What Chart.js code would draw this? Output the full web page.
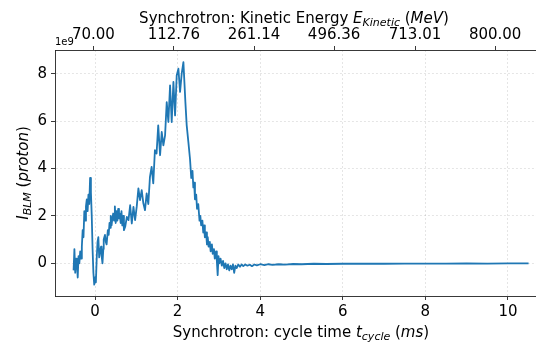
<!DOCTYPE html>
<html>
<head>
<meta charset="utf-8">
<script src="https://cdn.jsdelivr.net/npm/chart.js@4.4.0/dist/chart.umd.min.js"></script>
<style>
html,body{margin:0;padding:0;background:#fff;}
canvas{display:block;}
</style>
</head>
<body>
<canvas id="c" width="536" height="343"></canvas>
<script>
// cycle time (ms)
const times = [
-0.52,-0.50,-0.48,-0.46,-0.44,-0.42,-0.40,-0.38,-0.36,-0.34,-0.32,-0.30,-0.28,-0.26,-0.24,-0.22,-0.20,-0.18,-0.16,-0.14,-0.12,-0.10,-0.08,-0.06,-0.04,-0.02,0.00,0.02,
0.04,0.06,0.08,0.10,0.12,0.145,0.16,0.18,0.20,0.21,0.24,0.26,0.28,0.31,0.33,0.35,0.37,0.38,0.40,0.42,0.44,0.46,0.48,0.50,0.52,0.54,0.56,0.58,0.60,0.62,0.64,0.66,0.68,0.70,
0.73,0.77,0.81,0.85,0.89,0.93,0.97,1.01,1.05,1.09,1.13,1.17,1.21,1.25,1.29,1.33,1.37,1.41,1.45,1.49,1.53,1.575,1.615,1.655,1.696,1.736,1.776,1.817,1.857,1.898,1.938,1.978,2.019,2.059,2.099,2.14,2.164,2.188,2.22,2.26,
2.30,2.33,2.36,2.38,2.40,2.42,2.45,2.47,2.50,2.53,2.55,2.57,2.60,2.62,2.64,2.66,2.69,2.71,2.73,2.75,2.78,2.80,2.83,2.85,2.88,2.90,2.93,2.95,2.97,2.99,3.01,3.04,3.07,3.10,3.13,3.16,3.19,3.22,3.25,3.28,3.31,3.34,3.37,3.40,3.43,3.47,3.51,3.55,3.59,3.64,3.69,3.75,3.80,3.86,3.92,
4.0,4.1,4.2,4.3,4.45,4.6,4.8,5.0,5.3,5.6,6.0,6.5,7.0,7.5,8.0,8.5,9.0,9.5,10.0,10.5
];
// BLM signal, in units of 1e9 protons
const blmE9 = [
-0.3,0.6,-0.4,0.2,0.0,-0.6,0.3,0.0,0.5,0.2,0.7,1.4,1.1,2.2,1.8,2.4,2.7,2.2,2.9,2.5,3.6,3.0,2.0,0.6,-0.4,-0.9,-0.6,-0.8,
0.2,0.9,1.1,0.25,0.5,0.7,0.3,0.0,0.6,1.0,1.2,0.9,0.8,1.4,1.2,1.7,1.5,2.0,1.6,1.9,2.1,1.8,2.4,1.7,2.2,1.8,2.3,1.9,2.1,1.7,2.2,1.6,2.0,1.4,
1.54,1.96,1.82,2.45,1.68,2.38,1.82,2.4,3.16,2.67,3.09,2.53,2.24,2.95,2.5,3.65,4.07,3.37,4.77,4.63,5.82,4.56,5.54,4.98,5.40,6.80,5.96,7.51,5.96,7.65,6.24,7.93,8.21,7.23,8.0,8.49,7.65,6.80,5.82,5.12,
4.4,3.6,3.9,3.2,3.4,2.7,2.9,2.3,2.5,1.8,2.0,1.6,1.8,1.3,1.6,1.1,1.3,0.8,1.1,0.7,0.9,0.5,0.8,0.4,0.6,0.2,0.5,0.1,-0.5,0.3,0.0,0.2,-0.1,0.1,-0.2,0.0,-0.25,-0.05,-0.3,-0.1,-0.25,-0.05,-0.4,-0.1,-0.2,-0.05,-0.15,-0.05,-0.12,-0.05,-0.1,-0.06,-0.12,-0.05,-0.09,
-0.04,-0.08,-0.04,-0.07,-0.04,-0.06,-0.03,-0.04,-0.02,-0.03,-0.02,-0.01,-0.02,-0.01,-0.01,-0.01,0.0,-0.01,0.0,0.0
];
const xTicks = [0, 2, 4, 6, 8, 10];
const yTicks = [0, 2, 4, 6, 8];
const energyTickPos = [-0.04, 1.91, 3.85, 5.79, 7.75, 9.69];
const energyLabels = ['70.00', '112.76', '261.14', '496.36', '713.01', '800.00'];

const FONT = "'DejaVu Sans', sans-serif";
const tickFont = {family: FONT, size: 15};
const gridCommon = {color: 'rgba(0,0,0,0.13)', lineWidth: 0.8, tickLength: 4, tickColor: '#222', tickWidth: 0.9};

function drawRich(ctx, parts, x, y, align, size) {
  const subSize = Math.round(size * 0.7);
  let w = 0;
  parts.forEach(p => {
    ctx.font = (p.it ? 'italic ' : '') + (p.sub ? subSize : size) + 'px ' + FONT;
    p.w = ctx.measureText(p.t).width;
    w += p.w;
  });
  let cx = align === 'center' ? x - w / 2 : x;
  ctx.textBaseline = 'alphabetic';
  ctx.textAlign = 'left';
  parts.forEach(p => {
    ctx.font = (p.it ? 'italic ' : '') + (p.sub ? subSize : size) + 'px ' + FONT;
    ctx.fillText(p.t, cx, y + (p.sub ? size * 0.22 : 0));
    cx += p.w;
  });
}

const labelsPlugin = {
  id: 'labels',
  afterDraw(chart) {
    const ctx = chart.ctx;
    ctx.save();
    ctx.fillStyle = '#000';
    drawRich(ctx, [
      {t: 'Synchrotron: Kinetic Energy '}, {t: 'E', it: true}, {t: 'Kinetic', it: true, sub: true},
      {t: ' ('}, {t: 'MeV', it: true}, {t: ')'}
    ], 294, 22.5, 'center', 15);
    drawRich(ctx, [
      {t: 'Synchrotron: cycle time '}, {t: 't', it: true}, {t: 'cycle', it: true, sub: true},
      {t: ' ('}, {t: 'ms', it: true}, {t: ')'}
    ], 301, 336.5, 'center', 15);
    ctx.save();
    ctx.translate(28, 173);
    ctx.rotate(-Math.PI / 2);
    drawRich(ctx, [
      {t: 'I', it: true}, {t: 'BLM', it: true, sub: true}, {t: ' ('}, {t: 'proton', it: true}, {t: ')'}
    ], 0, 0, 'center', 15);
    ctx.restore();
    ctx.font = '10px ' + FONT;
    ctx.textAlign = 'left';
    ctx.textBaseline = 'alphabetic';
    ctx.fillText('1e9', 55, 45);
    ctx.restore();
  }
};

new Chart(document.getElementById('c'), {
  type: 'line',
  data: {
    datasets: [{
      data: times.map((t, i) => ({x: t, y: blmE9[i]})),
      borderColor: '#1f77b4',
      borderWidth: 1.8,
      pointRadius: 0,
      tension: 0,
      fill: false,
      borderJoinStyle: 'round',
      xAxisID: 'x',
      yAxisID: 'y'
    }]
  },
  options: {
    responsive: false,
    animation: false,
    devicePixelRatio: 1,
    layout: {padding: 0},
    plugins: {legend: {display: false}, tooltip: {enabled: false}},
    scales: {
      x: {
        type: 'linear', position: 'bottom', min: -0.97, max: 10.68,
        afterBuildTicks: s => { s.ticks = xTicks.map(v => ({value: v})); },
        afterFit: s => { s.height = 47; },
        ticks: {font: tickFont, color: '#000', padding: 3, maxRotation: 0, autoSkip: false, callback: v => String(v)},
        grid: gridCommon,
        border: {color: '#222', width: 0.9, dash: [2, 2]}
      },
      x2: {
        type: 'linear', position: 'top', min: -0.97, max: 10.68,
        afterBuildTicks: s => { s.ticks = energyTickPos.map(v => ({value: v})); },
        afterFit: s => { s.height = 50; },
        ticks: {font: tickFont, color: '#000', padding: 2, maxRotation: 0, autoSkip: false, callback: (v, i) => energyLabels[i]},
        grid: Object.assign({}, gridCommon, {drawOnChartArea: false}),
        border: {color: '#222', width: 0.9}
      },
      y: {
        type: 'linear', position: 'left', min: -1.38, max: 9.0,
        afterBuildTicks: s => { s.ticks = yTicks.map(v => ({value: v})); },
        afterFit: s => { s.width = 55; },
        ticks: {font: tickFont, color: '#000', padding: 4, callback: v => String(v)},
        grid: gridCommon,
        border: {color: '#222', width: 0.9, dash: [2, 2]}
      }
    }
  },
  plugins: [labelsPlugin]
});
</script>
</body>
</html>
